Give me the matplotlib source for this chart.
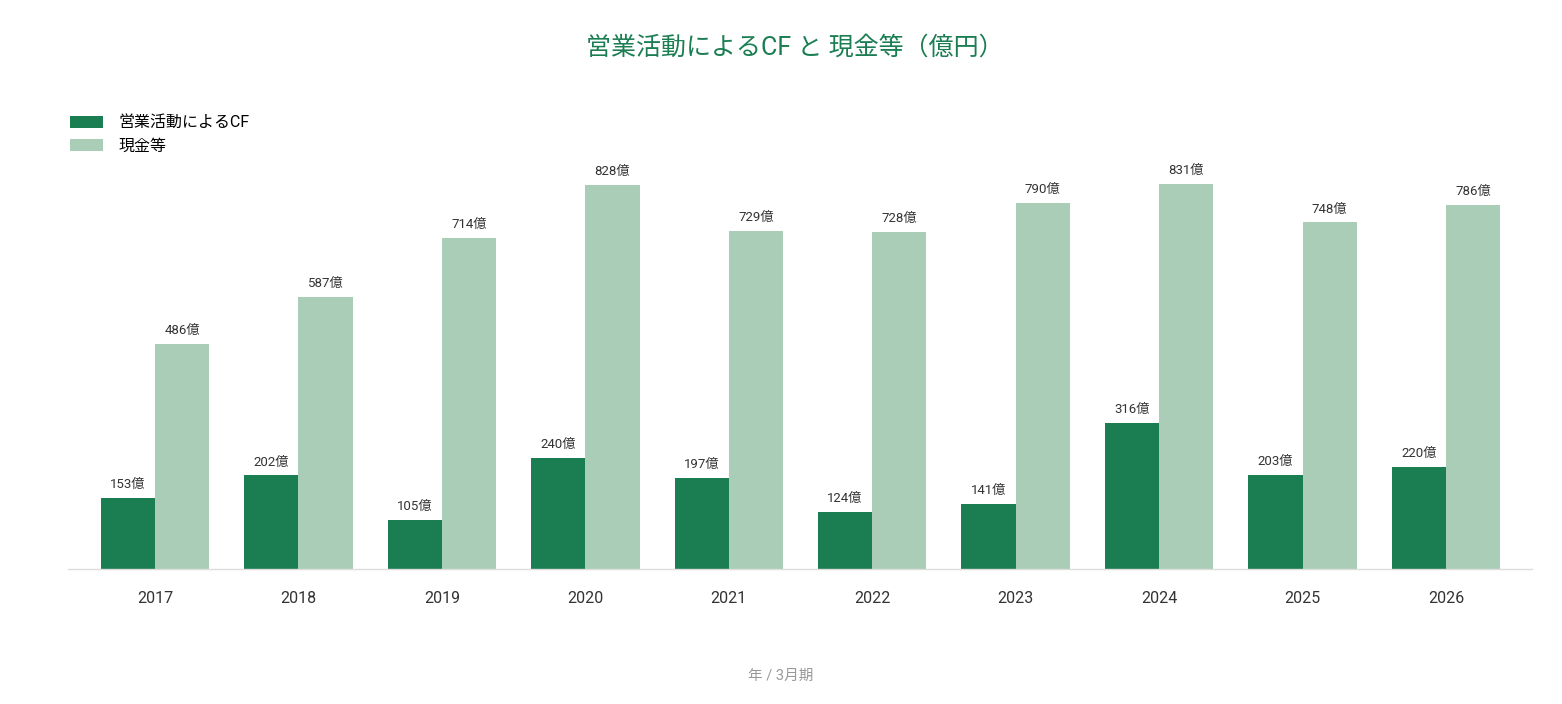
import matplotlib
matplotlib.use("Agg")
import matplotlib.pyplot as plt
import numpy as np

plt.rcParams['font.family'] = ['Roboto', 'Noto Sans CJK JP', 'DejaVu Sans']

years = ['2017', '2018', '2019', '2020', '2021', '2022', '2023', '2024', '2025', '2026']
cf_values = [153, 202, 105, 240, 197, 124, 141, 316, 203, 220]
cash_values = [486, 587, 714, 828, 729, 728, 790, 831, 748, 786]
series_names = ['営業活動によるCF', '現金等']
title = '営業活動によるCF と 現金等（億円）'
xlabel = '年 / 3月期'

dark = '#1b7d52'
light = '#a9cdb7'

fig = plt.figure(figsize=(15.62, 7.04), dpi=100)
ax = fig.add_axes([68/1562, 1-569/704, (1532-68)/1562, (569-160)/704])

x = np.arange(len(years))
w = 0.378
b1 = ax.bar(x - w/2, cf_values, w, color=dark, label=series_names[0])
b2 = ax.bar(x + w/2, cash_values, w, color=light, label=series_names[1])

for bars, vals in ((b1, cf_values), (b2, cash_values)):
    for r, v in zip(bars, vals):
        ax.annotate(f'{v}億', (r.get_x() + r.get_width()/2, r.get_height()),
                    xytext=(0, 5), textcoords='offset points',
                    ha='center', va='bottom', fontsize=9.5, color='#333333')

ax.set_xlim(-0.607, 9.60)
ax.set_ylim(0, (569-160)/((569-184)/831))
ax.set_xticks(x)
ax.set_xticklabels(years, fontsize=11.5, color='#333333')
ax.tick_params(axis='x', length=0, pad=16)
ax.set_yticks([])
for s in ['top', 'right', 'left']:
    ax.spines[s].set_visible(False)
ax.spines['bottom'].set_color('#dddddd')
ax.spines['bottom'].set_linewidth(1)

fig.text(795/1562, 1-48/704, title, ha='center', va='center', fontsize=18, color='#1b7d52')
fig.text(781/1562, 1-676/704, xlabel, ha='center', va='center', fontsize=10.5, color='#999999')

leg = fig.legend(handles=[b1, b2], loc='upper left', bbox_to_anchor=(56/1562, 1-101/704),
                 frameon=False, fontsize=11.5, handlelength=2.07, handleheight=0.75,
                 labelspacing=0.5, handletextpad=0.95)

fig.savefig('out.png', dpi=100)
